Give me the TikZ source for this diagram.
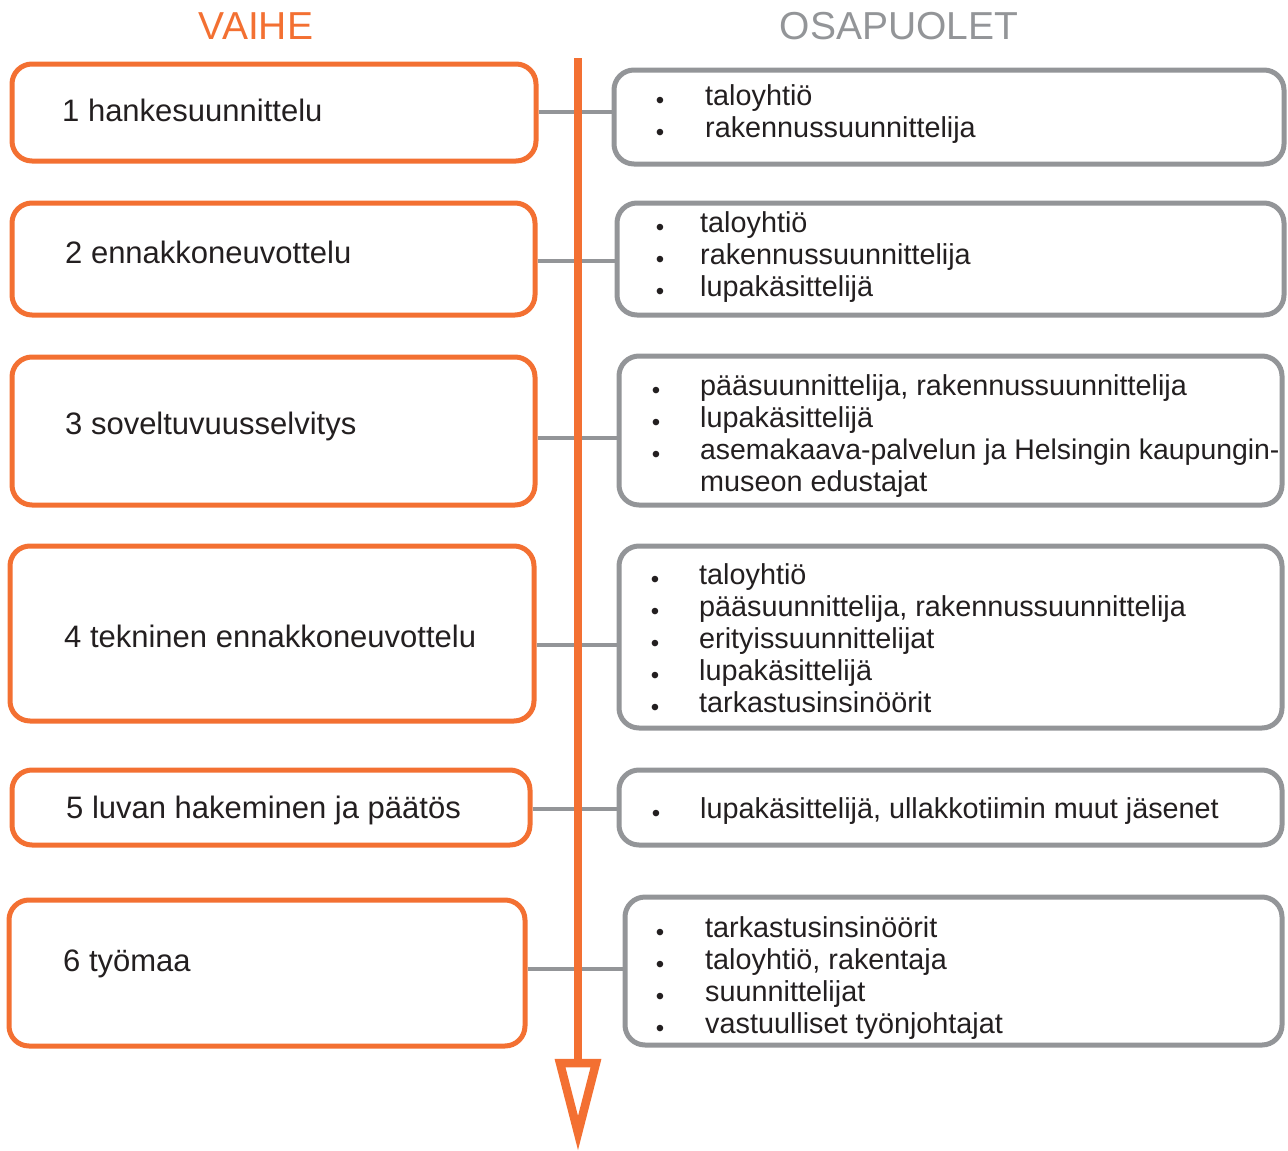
\documentclass[tikz,border=0pt]{standalone}
\usepackage{fontspec}
\setmainfont{Liberation Sans}
\usetikzlibrary{fit}
\definecolor{orng}{HTML}{F37032}
\definecolor{gry}{HTML}{939598}
\definecolor{txt}{HTML}{231F20}
\tikzset{
  obox/.style={draw=orng, line width=5pt, rounded corners=20pt, inner sep=0pt, fill=white},
  gbox/.style={draw=gry, line width=5pt, rounded corners=20pt, inner sep=0pt, fill=white},
  conn/.style={draw=gry, line width=3.3pt},
  spine/.style={draw=orng, line width=8.5pt},
  lbl/.style={anchor=mid west, inner sep=0pt, text=txt, font=\fontsize{31}{34}\selectfont},
  itm/.style={anchor=mid west, inner sep=0pt, text=txt, font=\fontsize{28.8}{32}\selectfont},
  bul/.style={anchor=center, inner sep=0pt, text=txt, font=\fontsize{24}{24}\selectfont},
  hdr/.style={anchor=center, inner sep=0pt, font=\fontsize{39}{40}\selectfont},
}
\newcommand\itm[5]{\node[bul] (b#1) at (#2,#4+8) {•}; \node[itm] (t#1) at (#3,#4+8) {#5};}
\begin{document}
\begin{tikzpicture}[x=1pt,y=-1pt]
\useasboundingbox (0,0) rectangle (1288,1151);
% headers
\node[hdr, text=orng] (h1) at (256,26) {VAIHE};
\node[hdr, text=gry] (h2) at (899,26) {OSAPUOLET};
% orange boxes
\node[obox, fit={(12,64) (536,161)}] (o1) {};
\node[obox, fit={(12,203) (535,315)}] (o2) {};
\node[obox, fit={(12,357) (535,505)}] (o3) {};
\node[obox, fit={(10,546) (534,721)}] (o4) {};
\node[obox, fit={(12,770) (530,845)}] (o5) {};
\node[obox, fit={(9,900) (525,1046)}] (o6) {};
% grey boxes
\node[gbox, fit={(614,70) (1284,164)}] (g1) {};
\node[gbox, fit={(617,203) (1284,315)}] (g2) {};
\node[gbox, fit={(619,356) (1282,505)}] (g3) {};
\node[gbox, fit={(619,546) (1282,728)}] (g4) {};
\node[gbox, fit={(619,770) (1282,845)}] (g5) {};
\node[gbox, fit={(625,897) (1282,1045)}] (g6) {};
% connectors
\draw[conn] (o1.east |- 0,112) -- (g1.west |- 0,112);
\draw[conn] (o2.east |- 0,261) -- (g2.west |- 0,261);
\draw[conn] (o3.east |- 0,438) -- (g3.west |- 0,438);
\draw[conn] (o4.east |- 0,645) -- (g4.west |- 0,645);
\draw[conn] (o5.east |- 0,809) -- (g5.west |- 0,809);
\draw[conn] (o6.east |- 0,969) -- (g6.west |- 0,969);
% spine with open arrowhead
\coordinate (sTop) at (578,58);
\coordinate (sEnd) at (578,1063);
\coordinate (aL) at (560,1063);
\coordinate (aR) at (596,1063);
\coordinate (aT) at (578,1133);
\draw[spine] (sTop) -- (sEnd);
\draw[spine, line join=miter] (aL) -- (aR) -- (aT) -- cycle;
% left labels
\node[lbl] (l1) at (62,119) {1 hankesuunnittelu};
\node[lbl] (l2) at (65,261) {2 ennakkoneuvottelu};
\node[lbl] (l3) at (65,432) {3 soveltuvuusselvitys};
\node[lbl] (l4) at (64,645) {4 tekninen ennakkoneuvottelu};
\node[lbl] (l5) at (66,816) {5 luvan hakeminen ja päätös};
\node[lbl] (l6) at (63,969) {6 työmaa};
% right items
\itm{11}{660}{705}{95}{taloyhtiö}
\itm{12}{660}{705}{127}{rakennussuunnittelija}
\itm{21}{660}{700}{222}{taloyhtiö}
\itm{22}{660}{700}{254}{rakennussuunnittelija}
\itm{23}{660}{700}{286}{lupakäsittelijä}
\itm{31}{656}{700}{385}{pääsuunnittelija, rakennussuunnittelija}
\itm{32}{656}{700}{417}{lupakäsittelijä}
\node[bul] (b33) at (656,457) {•};
\node[itm, font=\fontsize{28.4}{32}\selectfont] (t33) at (700,457) {asemakaava-palvelun ja Helsingin kaupungin-};
\node[itm] (t34) at (700,489) {museon edustajat};
\itm{41}{655}{699}{574}{taloyhtiö}
\itm{42}{655}{699}{606}{pääsuunnittelija, rakennussuunnittelija}
\itm{43}{655}{699}{638}{erityissuunnittelijat}
\itm{44}{655}{699}{670}{lupakäsittelijä}
\itm{45}{655}{699}{702}{tarkastusinsinöörit}
\itm{51}{656}{700}{808}{lupakäsittelijä, ullakkotiimin muut jäsenet}
\itm{61}{660}{705}{927}{tarkastusinsinöörit}
\itm{62}{660}{705}{959}{taloyhtiö, rakentaja}
\itm{63}{660}{705}{991}{suunnittelijat}
\itm{64}{660}{705}{1023}{vastuulliset työnjohtajat}
\end{tikzpicture}
\end{document}
